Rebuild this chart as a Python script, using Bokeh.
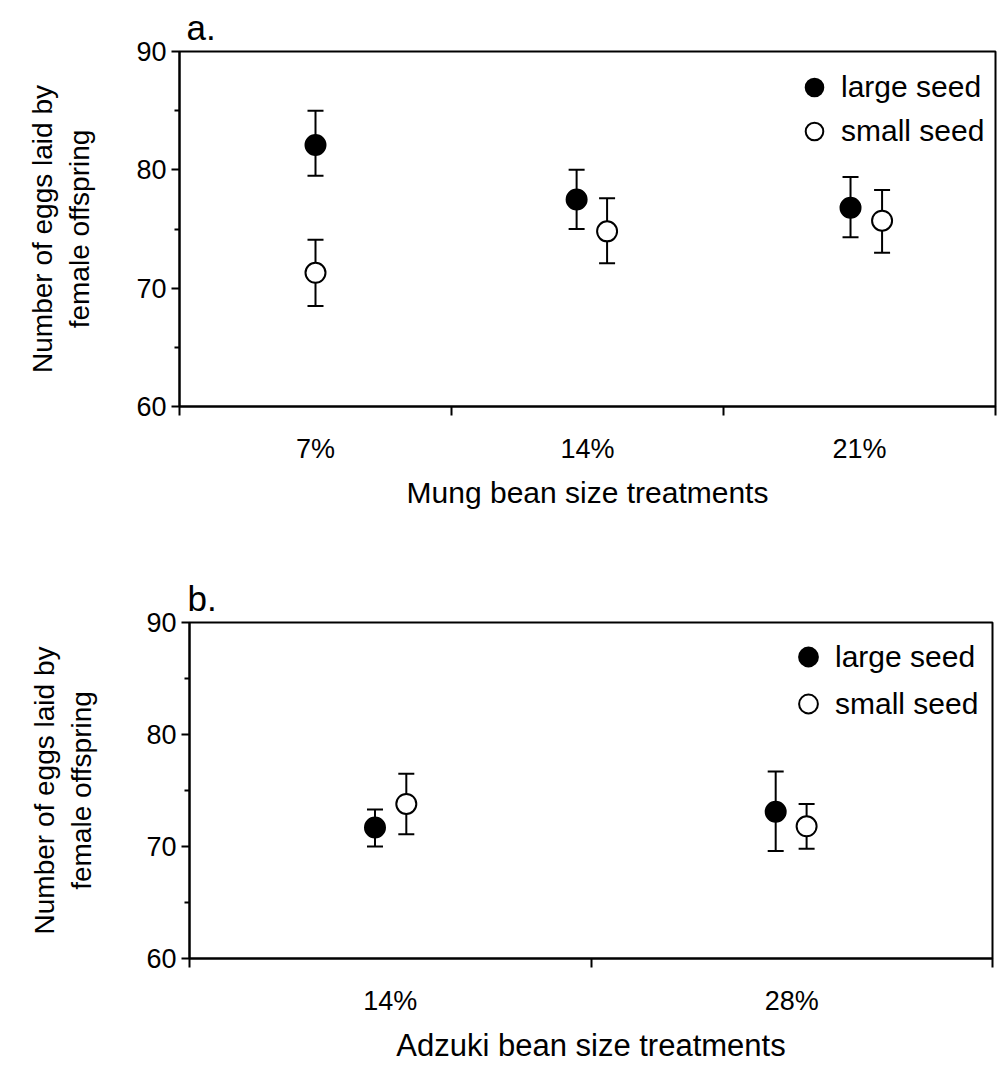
from bokeh.plotting import figure
from bokeh.models import (Range1d, FixedTicker, Whisker, ColumnDataSource, Legend,
                          LegendItem, TeeHead)
from bokeh.embed import file_html
from bokeh.resources import INLINE

FONT = "Liberation Sans"

# ---- data: panel a (mung bean) ----
mung_treatments = ["7%", "14%", "21%"]
mung_large_mean = [82.1, 77.5, 76.8]
mung_large_lower = [79.5, 75.0, 74.3]
mung_large_upper = [85.0, 80.0, 79.4]
mung_small_mean = [71.3, 74.8, 75.7]
mung_small_lower = [68.5, 72.1, 73.0]
mung_small_upper = [74.1, 77.6, 78.3]

# ---- data: panel b (adzuki bean) ----
adzuki_treatments = ["14%", "28%"]
adzuki_large_mean = [71.7, 73.1]
adzuki_large_lower = [70.0, 69.6]
adzuki_large_upper = [73.3, 76.7]
adzuki_small_mean = [73.8, 71.8]
adzuki_small_lower = [71.1, 69.8]
adzuki_small_upper = [76.5, 73.8]

y_ticks = [60, 70, 80, 90]
y_minor = [65, 75, 85]
series_names = ["large seed", "small seed"]
y_title = "Number of eggs laid by\nfemale offspring"


def make_panel(cats, lm, ll, lu, sm, sl, su, large_dx, small_dx, xlabel, letter,
               width, height, mb_left, mb_right, mb_top, mb_bottom,
               ylab_standoff, glyph_h, legend_loc, title_offset, title_standoff,
               xlabel_size):
    n = len(cats)
    p = figure(width=width, height=height, output_backend="svg", toolbar_location=None,
               x_range=Range1d(0, n), y_range=Range1d(60, 90),
               min_border_left=mb_left, min_border_right=mb_right,
               min_border_top=mb_top, min_border_bottom=mb_bottom,
               background_fill_color="white", border_fill_color="white",
               title=letter)
    p.title.align = "left"
    p.title.offset = title_offset
    p.title.standoff = title_standoff
    p.title.text_font = FONT
    p.title.text_font_size = "35px"
    p.title.text_font_style = "normal"
    p.title.text_color = "black"

    p.xgrid.visible = False
    p.ygrid.visible = False
    p.outline_line_color = "black"
    p.outline_line_width = 2

    centers = [i + 0.5 for i in range(n)]
    xl = [c + d for c, d in zip(centers, large_dx)]
    xs = [c + d for c, d in zip(centers, small_dx)]
    src_l = ColumnDataSource(dict(x=xl, y=lm, lower=ll, upper=lu))
    src_s = ColumnDataSource(dict(x=xs, y=sm, lower=sl, upper=su))

    for src in (src_l, src_s):
        w = Whisker(source=src, base="x", lower="lower", upper="upper",
                    line_color="black", line_width=2,
                    upper_head=TeeHead(size=16, line_width=2, line_color="black"),
                    lower_head=TeeHead(size=16, line_width=2, line_color="black"))
        p.add_layout(w)

    r_l = p.scatter("x", "y", source=src_l, size=20, marker="circle",
                    fill_color="black", line_color="black", line_width=2)
    r_s = p.scatter("x", "y", source=src_s, size=20, marker="circle",
                    fill_color="white", line_color="black", line_width=2)

    # y axis
    yax = p.yaxis[0]
    yax.ticker = FixedTicker(ticks=y_ticks, minor_ticks=y_minor)
    yax.axis_line_width = 2
    yax.major_tick_line_width = 2
    yax.minor_tick_line_width = 2
    yax.major_tick_out = 8
    yax.major_tick_in = 0
    yax.minor_tick_out = 5
    yax.minor_tick_in = 0
    yax.major_label_text_font = FONT
    yax.major_label_text_font_size = "27px"
    yax.major_label_text_color = "black"
    yax.major_label_standoff = 5
    yax.axis_label = y_title
    yax.axis_label_text_font = FONT
    yax.axis_label_text_font_size = "28px"
    yax.axis_label_text_font_style = "normal"
    yax.axis_label_text_color = "black"
    yax.axis_label_standoff = ylab_standoff

    # x axis: labels at category centres, ticks at boundaries
    xax = p.xaxis[0]
    xax.ticker = FixedTicker(ticks=centers, minor_ticks=list(range(n + 1)))
    xax.major_label_overrides = {c: t for c, t in zip(centers, cats)}
    xax.axis_line_width = 2
    xax.major_tick_line_color = None
    xax.major_tick_out = 0
    xax.major_tick_in = 0
    xax.minor_tick_line_width = 2
    xax.minor_tick_out = 9
    xax.minor_tick_in = 0
    xax.major_label_text_font = FONT
    xax.major_label_text_font_size = "27px"
    xax.major_label_text_color = "black"
    xax.major_label_standoff = 18
    xax.axis_label = xlabel
    xax.axis_label_text_font = FONT
    xax.axis_label_text_font_size = xlabel_size
    xax.axis_label_text_font_style = "normal"
    xax.axis_label_text_color = "black"
    xax.axis_label_standoff = 9

    legend = Legend(items=[LegendItem(label=series_names[0], renderers=[r_l]),
                           LegendItem(label=series_names[1], renderers=[r_s])],
                    location=legend_loc, glyph_width=50, glyph_height=glyph_h,
                    label_standoff=2, spacing=0, padding=5, margin=0,
                    border_line_color=None, background_fill_alpha=0,
                    label_text_font=FONT, label_text_font_size="30px",
                    label_text_color="black")
    p.add_layout(legend)
    return p


pa = make_panel(mung_treatments, mung_large_mean, mung_large_lower, mung_large_upper,
                mung_small_mean, mung_small_lower, mung_small_upper,
                large_dx=[0.0, -0.04, -0.033], small_dx=[0.0, 0.072, 0.083],
                xlabel="Mung bean size treatments", letter="a.",
                width=997, height=516, mb_left=179, mb_right=2, mb_top=51, mb_bottom=110,
                ylab_standoff=38, glyph_h=44, legend_loc=(610, 253),
                title_offset=7, title_standoff=9, xlabel_size="30px")

pb = make_panel(adzuki_treatments, adzuki_large_mean, adzuki_large_lower, adzuki_large_upper,
                adzuki_small_mean, adzuki_small_lower, adzuki_small_upper,
                large_dx=[-0.038, -0.04], small_dx=[0.04, 0.037],
                xlabel="Adzuki bean size treatments", letter="b.",
                width=997, height=552, mb_left=189, mb_right=5, mb_top=106, mb_bottom=110,
                ylab_standoff=46, glyph_h=47, legend_loc=(594, 231),
                title_offset=-2, title_standoff=10, xlabel_size="31px")

open("out.html", "w").write(file_html([pa, pb], INLINE))
